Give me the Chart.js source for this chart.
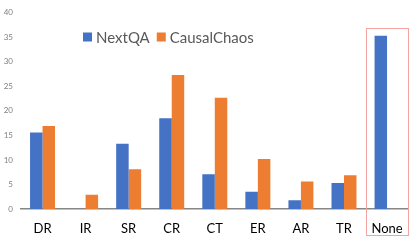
<!DOCTYPE html>
<html>
<head>
<meta charset="utf-8">
<script src="https://cdn.jsdelivr.net/npm/chart.js@4.4.0/dist/chart.umd.min.js"></script>
<style>
  html, body { margin: 0; padding: 0; background: #fff; }
  #wrap { width: 415px; height: 247px; }
</style>
</head>
<body>
<div id="wrap"><canvas id="myChart" width="415" height="247"></canvas></div>
<script>
var categories = ["DR", "IR", "SR", "CR", "CT", "ER", "AR", "TR", "None"];
var nextqaValues = [15.6, 0, 13.3, 18.5, 7.1, 3.5, 1.8, 5.3, 35.3];
var causalValues = [16.9, 2.9, 8.1, 27.3, 22.7, 10.2, 5.6, 6.9, 0];
var yTicks = [0, 5, 10, 15, 20, 25, 30, 35, 40];

var blue = "#4472C4";
var orange = "#ED7D31";
var fontName = "Lato, 'Open Sans', sans-serif";

// legend drawn inside the plot, left of centre like the original
var insideLegend = {
  id: 'insideLegend',
  afterDraw: function(chart) {
    var ctx = chart.ctx;
    var x = chart.chartArea.left + 62;
    var y = 37;
    ctx.save();
    ctx.font = "15px " + fontName;
    ctx.textBaseline = "middle";
    chart.data.datasets.forEach(function(ds) {
      ctx.fillStyle = ds.backgroundColor;
      ctx.fillRect(x, y - 4.5, 9, 9);
      ctx.fillStyle = "#595959";
      ctx.fillText(ds.label, x + 13, y + 1);
      x += 13 + ctx.measureText(ds.label).width + 7;
    });
    ctx.restore();
  }
};

// red frame around the last category
var highlightBox = {
  id: 'highlightBox',
  afterDraw: function(chart) {
    var xs = chart.scales.x;
    var last = categories.length - 1;
    var half = (xs.getPixelForValue(last) - xs.getPixelForValue(last - 1)) / 2;
    var left = xs.getPixelForValue(last) - half;
    var right = Math.min(xs.getPixelForValue(last) + half, chart.width - 7);
    var top = chart.scales.y.getPixelForValue(36.9);
    var bottom = chart.height - 12;
    var ctx = chart.ctx;
    ctx.save();
    ctx.strokeStyle = "#F4A3A3";
    ctx.lineWidth = 1;
    ctx.strokeRect(Math.round(left) + 0.5, Math.round(top) + 0.5, Math.round(right - left), Math.round(bottom - top));
    ctx.restore();
  }
};

var ctx = document.getElementById('myChart').getContext('2d');
var chart = new Chart(ctx, {
  type: 'bar',
  data: {
    labels: categories,
    datasets: [{
      label: "NextQA",
      backgroundColor: blue,
      data: nextqaValues
    }, {
      label: "CausalChaos",
      backgroundColor: orange,
      data: causalValues
    }]
  },
  options: {
    responsive: false,
    animation: false,
    layout: { padding: { left: 4, right: 6, top: 8, bottom: 12 } },
    datasets: {
      bar: { categoryPercentage: 0.58, barPercentage: 1 }
    },
    plugins: {
      legend: { display: false },
      tooltip: { enabled: false }
    },
    scales: {
      x: {
        afterFit: function(axis) { axis.height = 26; },
        grid: { display: false, drawTicks: false },
        border: { display: true, color: "#868686", width: 1.5 },
        ticks: { color: "#000", font: { family: fontName, size: 13 }, padding: 12 }
      },
      y: {
        min: 0,
        max: 40,
        afterBuildTicks: function(axis) {
          axis.ticks = yTicks.map(function(v) { return { value: v }; });
        },
        afterFit: function(axis) { axis.width = 17; },
        grid: { display: false, drawTicks: false },
        border: { display: false },
        ticks: { color: "#7f7f7f", font: { family: fontName, size: 8 }, padding: 8 }
      }
    }
  },
  plugins: [insideLegend, highlightBox]
});
</script>
</body>
</html>
